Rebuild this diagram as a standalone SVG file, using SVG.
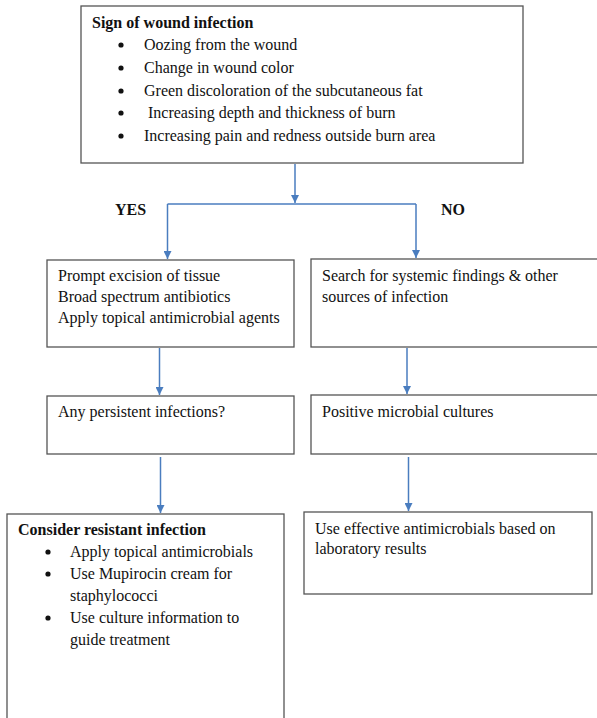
<svg xmlns="http://www.w3.org/2000/svg" width="597" height="718" viewBox="0 0 597 718">
<defs>
<style>
.box{fill:#fff;stroke:#555;stroke-width:1.3}
.t{font-family:"Liberation Serif","Times New Roman",serif;font-size:16px;fill:#111}
.b{font-weight:bold}
.c{fill:none;stroke:#4a7dbf;stroke-width:1.5}
.dot{fill:#111}
</style>
<marker id="ah" viewBox="0 0 10 10" refX="10" refY="5" markerWidth="8" markerHeight="8" markerUnits="userSpaceOnUse" orient="auto">
<path d="M0,0 L10,5 L0,10 Z" fill="#4a7dbf"/>
</marker>
</defs>
<rect width="597" height="718" fill="#fff"/>
<g id="n-signs">
<rect class="box" x="81" y="6" width="442" height="157"/>
<text class="t b" x="92" y="28">Sign of wound infection</text>
<g class="t">
<circle class="dot" cx="121" cy="45" r="2.6"/><text x="144" y="50">Oozing from the wound</text>
<circle class="dot" cx="121" cy="68" r="2.6"/><text x="144" y="73">Change in wound color</text>
<circle class="dot" cx="121" cy="91" r="2.6"/><text x="144" y="96">Green discoloration of the subcutaneous fat</text>
<circle class="dot" cx="121" cy="113" r="2.6"/><text x="148" y="118">Increasing depth and thickness of burn</text>
<circle class="dot" cx="121" cy="136" r="2.6"/><text x="144" y="141">Increasing pain and redness outside burn area</text>
</g>
</g>
<g id="labels">
<text class="t b" x="115" y="215" font-size="14">YES</text>
<text class="t b" x="441" y="215" font-size="14">NO</text>
</g>
<g id="n-excision">
<rect class="box" x="47" y="260" width="247" height="87"/>
<text class="t" x="58" y="281">Prompt excision of tissue</text>
<text class="t" x="58" y="302">Broad spectrum antibiotics</text>
<text class="t" x="58" y="323">Apply topical antimicrobial agents</text>
</g>
<g id="n-search">
<rect class="box" x="311" y="259" width="300" height="88"/>
<text class="t" x="322" y="281">Search for systemic findings &amp; other</text>
<text class="t" x="322" y="302">sources of infection</text>
</g>
<g id="n-persistent">
<rect class="box" x="47" y="396" width="247" height="58"/>
<text class="t" x="58" y="417">Any persistent infections?</text>
</g>
<g id="n-positive">
<rect class="box" x="311" y="395" width="300" height="59"/>
<text class="t" x="322" y="417">Positive microbial cultures</text>
</g>
<g id="n-resistant">
<rect class="box" x="7" y="514" width="277" height="220"/>
<text class="t b" x="18" y="535">Consider resistant infection</text>
<g class="t">
<circle class="dot" cx="48" cy="552" r="2.6"/><text x="70" y="557">Apply topical antimicrobials</text>
<circle class="dot" cx="48" cy="574" r="2.6"/><text x="70" y="579">Use Mupirocin cream for</text>
<text x="70" y="601">staphylococci</text>
<circle class="dot" cx="48" cy="618" r="2.6"/><text x="70" y="623">Use culture information to</text>
<text x="70" y="645">guide treatment</text>
</g>
</g>
<g id="n-effective">
<rect class="box" x="304" y="512" width="288" height="82"/>
<text class="t" x="315" y="534">Use effective antimicrobials based on</text>
<text class="t" x="315" y="554">laboratory results</text>
</g>
<g id="connectors">
<line class="c" x1="295" y1="164" x2="295" y2="203" marker-end="url(#ah)"/>
<polyline class="c" points="167.5,204 416,204"/>
<line class="c" x1="167.5" y1="204" x2="167.5" y2="259" marker-end="url(#ah)"/>
<line class="c" x1="416" y1="204" x2="416" y2="258" marker-end="url(#ah)"/>
<line class="c" x1="159.5" y1="348" x2="159.5" y2="395" marker-end="url(#ah)"/>
<line class="c" x1="407" y1="348" x2="407" y2="394" marker-end="url(#ah)"/>
<line class="c" x1="160.5" y1="457" x2="160.5" y2="513" marker-end="url(#ah)"/>
<line class="c" x1="408.5" y1="457" x2="408.5" y2="511" marker-end="url(#ah)"/>
</g>
</svg>
